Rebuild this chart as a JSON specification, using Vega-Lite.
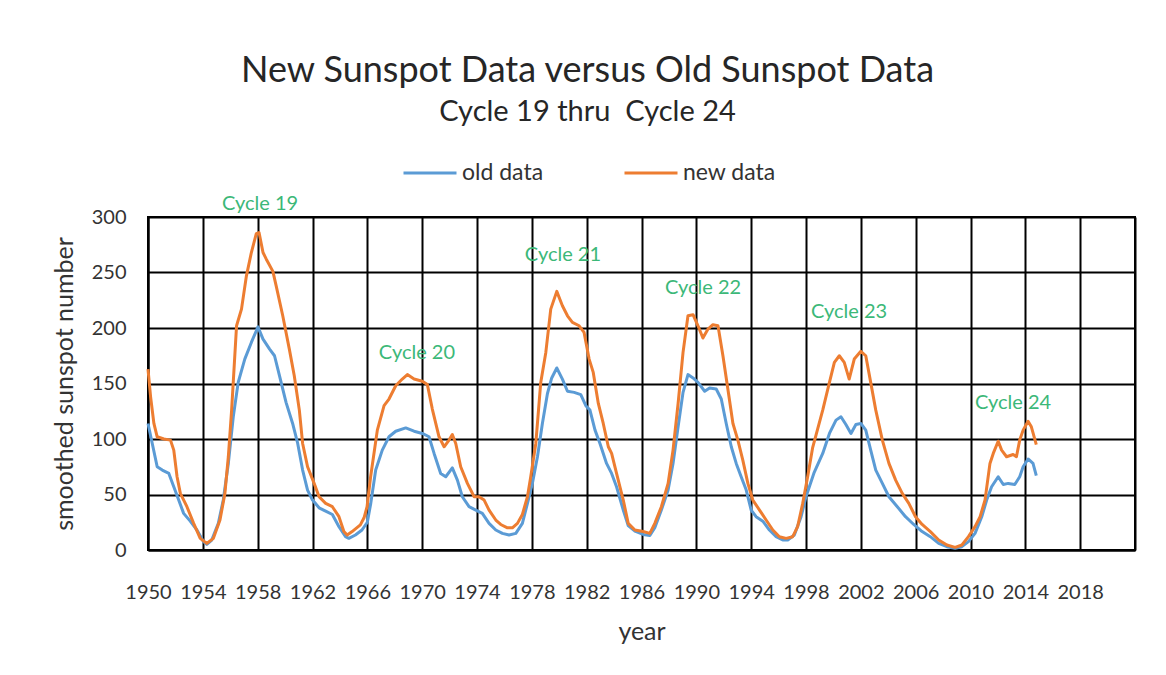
{
  "$schema": "https://vega.github.io/schema/vega-lite/v6.json",
  "width": 987,
  "height": 333,
  "autosize": {"type": "none"},
  "padding": {"left": 148, "top": 217, "right": 31, "bottom": 125},
  "background": "white",
  "title": {
    "text": "New Sunspot Data versus Old Sunspot Data",
    "subtitle": "Cycle 19 thru\u00a0 Cycle 24",
    "anchor": "middle",
    "frame": "group",
    "dx": -54,
    "offset": 17,
    "font": "Lato",
    "fontSize": 36,
    "fontWeight": "normal",
    "color": "#262626",
    "subtitleFont": "Lato",
    "subtitleFontSize": 29,
    "subtitleColor": "#262626",
    "subtitlePadding": 8
  },
  "config": {
    "view": {"stroke": "black", "strokeWidth": 2},
    "axis": {
      "grid": true,
      "gridColor": "black",
      "gridWidth": 2,
      "gridOpacity": 1,
      "domainColor": "black",
      "domainWidth": 2,
      "ticks": false,
      "labelFont": "Lato",
      "labelColor": "#333333",
      "labelFontSize": 20,
      "titleFont": "Lato",
      "titleFontWeight": "normal",
      "titleColor": "#333333",
      "titleFontSize": 25
    },
    "legend": {
      "labelFont": "Lato",
      "labelFontSize": 23,
      "labelColor": "#333333"
    }
  },
  "datasets": {
    "sunspots": [
      {"year": 1950.00, "series": "old data", "ssn": 114},
      {"year": 1950.31, "series": "old data", "ssn": 96},
      {"year": 1950.67, "series": "old data", "ssn": 75},
      {"year": 1951.04, "series": "old data", "ssn": 72},
      {"year": 1951.52, "series": "old data", "ssn": 69},
      {"year": 1951.88, "series": "old data", "ssn": 57},
      {"year": 1952.24, "series": "old data", "ssn": 45},
      {"year": 1952.60, "series": "old data", "ssn": 33},
      {"year": 1953.08, "series": "old data", "ssn": 26},
      {"year": 1953.57, "series": "old data", "ssn": 18},
      {"year": 1954.05, "series": "old data", "ssn": 7.5},
      {"year": 1954.29, "series": "old data", "ssn": 5},
      {"year": 1954.65, "series": "old data", "ssn": 9},
      {"year": 1955.13, "series": "old data", "ssn": 24},
      {"year": 1955.49, "series": "old data", "ssn": 45},
      {"year": 1955.86, "series": "old data", "ssn": 78},
      {"year": 1956.22, "series": "old data", "ssn": 120},
      {"year": 1956.58, "series": "old data", "ssn": 151},
      {"year": 1957.06, "series": "old data", "ssn": 172},
      {"year": 1957.54, "series": "old data", "ssn": 187},
      {"year": 1958.02, "series": "old data", "ssn": 201},
      {"year": 1958.39, "series": "old data", "ssn": 190},
      {"year": 1958.87, "series": "old data", "ssn": 181},
      {"year": 1959.23, "series": "old data", "ssn": 175},
      {"year": 1959.59, "series": "old data", "ssn": 157},
      {"year": 1960.07, "series": "old data", "ssn": 133},
      {"year": 1960.55, "series": "old data", "ssn": 114},
      {"year": 1960.92, "series": "old data", "ssn": 96},
      {"year": 1961.28, "series": "old data", "ssn": 72},
      {"year": 1961.64, "series": "old data", "ssn": 54},
      {"year": 1962.00, "series": "old data", "ssn": 45},
      {"year": 1962.48, "series": "old data", "ssn": 38},
      {"year": 1962.96, "series": "old data", "ssn": 35},
      {"year": 1963.45, "series": "old data", "ssn": 32},
      {"year": 1963.93, "series": "old data", "ssn": 21},
      {"year": 1964.41, "series": "old data", "ssn": 12},
      {"year": 1964.65, "series": "old data", "ssn": 10.5},
      {"year": 1965.13, "series": "old data", "ssn": 13.5},
      {"year": 1965.61, "series": "old data", "ssn": 18},
      {"year": 1966.00, "series": "old data", "ssn": 25},
      {"year": 1966.25, "series": "old data", "ssn": 42},
      {"year": 1966.61, "series": "old data", "ssn": 72},
      {"year": 1967.09, "series": "old data", "ssn": 90},
      {"year": 1967.58, "series": "old data", "ssn": 102},
      {"year": 1968.07, "series": "old data", "ssn": 107},
      {"year": 1968.80, "series": "old data", "ssn": 110},
      {"year": 1969.41, "series": "old data", "ssn": 107},
      {"year": 1970.01, "series": "old data", "ssn": 105},
      {"year": 1970.50, "series": "old data", "ssn": 102},
      {"year": 1970.87, "series": "old data", "ssn": 87},
      {"year": 1971.35, "series": "old data", "ssn": 69},
      {"year": 1971.72, "series": "old data", "ssn": 66},
      {"year": 1972.20, "series": "old data", "ssn": 74},
      {"year": 1972.57, "series": "old data", "ssn": 63},
      {"year": 1972.93, "series": "old data", "ssn": 48},
      {"year": 1973.42, "series": "old data", "ssn": 39},
      {"year": 1973.91, "series": "old data", "ssn": 36},
      {"year": 1974.39, "series": "old data", "ssn": 33},
      {"year": 1974.88, "series": "old data", "ssn": 24},
      {"year": 1975.37, "series": "old data", "ssn": 18},
      {"year": 1975.85, "series": "old data", "ssn": 15},
      {"year": 1976.34, "series": "old data", "ssn": 13.5},
      {"year": 1976.83, "series": "old data", "ssn": 15},
      {"year": 1977.31, "series": "old data", "ssn": 24},
      {"year": 1977.68, "series": "old data", "ssn": 42},
      {"year": 1978.04, "series": "old data", "ssn": 60},
      {"year": 1978.41, "series": "old data", "ssn": 84},
      {"year": 1978.77, "series": "old data", "ssn": 114},
      {"year": 1979.14, "series": "old data", "ssn": 141},
      {"year": 1979.45, "series": "old data", "ssn": 155},
      {"year": 1979.82, "series": "old data", "ssn": 164},
      {"year": 1980.23, "series": "old data", "ssn": 154},
      {"year": 1980.60, "series": "old data", "ssn": 143},
      {"year": 1981.09, "series": "old data", "ssn": 142},
      {"year": 1981.57, "series": "old data", "ssn": 140},
      {"year": 1981.94, "series": "old data", "ssn": 130},
      {"year": 1982.24, "series": "old data", "ssn": 126},
      {"year": 1982.61, "series": "old data", "ssn": 108},
      {"year": 1982.97, "series": "old data", "ssn": 96},
      {"year": 1983.45, "series": "old data", "ssn": 78},
      {"year": 1983.82, "series": "old data", "ssn": 69},
      {"year": 1984.18, "series": "old data", "ssn": 57},
      {"year": 1984.67, "series": "old data", "ssn": 36},
      {"year": 1985.03, "series": "old data", "ssn": 22},
      {"year": 1985.52, "series": "old data", "ssn": 17},
      {"year": 1986.12, "series": "old data", "ssn": 14},
      {"year": 1986.61, "series": "old data", "ssn": 13},
      {"year": 1986.97, "series": "old data", "ssn": 20},
      {"year": 1987.45, "series": "old data", "ssn": 36},
      {"year": 1987.94, "series": "old data", "ssn": 54},
      {"year": 1988.30, "series": "old data", "ssn": 78},
      {"year": 1988.67, "series": "old data", "ssn": 111},
      {"year": 1989.03, "series": "old data", "ssn": 142},
      {"year": 1989.39, "series": "old data", "ssn": 158},
      {"year": 1989.76, "series": "old data", "ssn": 155},
      {"year": 1990.12, "series": "old data", "ssn": 151},
      {"year": 1990.61, "series": "old data", "ssn": 143},
      {"year": 1990.97, "series": "old data", "ssn": 146},
      {"year": 1991.45, "series": "old data", "ssn": 145},
      {"year": 1991.82, "series": "old data", "ssn": 136},
      {"year": 1992.18, "series": "old data", "ssn": 114},
      {"year": 1992.55, "series": "old data", "ssn": 93},
      {"year": 1992.91, "series": "old data", "ssn": 78},
      {"year": 1993.27, "series": "old data", "ssn": 66},
      {"year": 1993.64, "series": "old data", "ssn": 54},
      {"year": 1994.00, "series": "old data", "ssn": 36},
      {"year": 1994.36, "series": "old data", "ssn": 30},
      {"year": 1994.85, "series": "old data", "ssn": 26},
      {"year": 1995.33, "series": "old data", "ssn": 18},
      {"year": 1995.82, "series": "old data", "ssn": 12},
      {"year": 1996.30, "series": "old data", "ssn": 9},
      {"year": 1996.67, "series": "old data", "ssn": 9},
      {"year": 1997.15, "series": "old data", "ssn": 13.5},
      {"year": 1997.64, "series": "old data", "ssn": 30},
      {"year": 1998.00, "series": "old data", "ssn": 48},
      {"year": 1998.60, "series": "old data", "ssn": 70},
      {"year": 1999.22, "series": "old data", "ssn": 87},
      {"year": 1999.71, "series": "old data", "ssn": 105},
      {"year": 2000.19, "series": "old data", "ssn": 117},
      {"year": 2000.55, "series": "old data", "ssn": 120},
      {"year": 2000.91, "series": "old data", "ssn": 113},
      {"year": 2001.28, "series": "old data", "ssn": 105},
      {"year": 2001.64, "series": "old data", "ssn": 113},
      {"year": 2002.00, "series": "old data", "ssn": 114},
      {"year": 2002.36, "series": "old data", "ssn": 108},
      {"year": 2002.72, "series": "old data", "ssn": 90},
      {"year": 2003.09, "series": "old data", "ssn": 72},
      {"year": 2003.57, "series": "old data", "ssn": 60},
      {"year": 2004.05, "series": "old data", "ssn": 48},
      {"year": 2004.66, "series": "old data", "ssn": 39},
      {"year": 2005.26, "series": "old data", "ssn": 30},
      {"year": 2005.86, "series": "old data", "ssn": 23},
      {"year": 2006.47, "series": "old data", "ssn": 16.6},
      {"year": 2007.07, "series": "old data", "ssn": 12},
      {"year": 2007.68, "series": "old data", "ssn": 6},
      {"year": 2008.28, "series": "old data", "ssn": 3},
      {"year": 2008.88, "series": "old data", "ssn": 1.5},
      {"year": 2009.37, "series": "old data", "ssn": 3},
      {"year": 2009.85, "series": "old data", "ssn": 7.5},
      {"year": 2010.33, "series": "old data", "ssn": 15},
      {"year": 2010.82, "series": "old data", "ssn": 30},
      {"year": 2011.18, "series": "old data", "ssn": 45},
      {"year": 2011.54, "series": "old data", "ssn": 57},
      {"year": 2012.02, "series": "old data", "ssn": 66},
      {"year": 2012.39, "series": "old data", "ssn": 59},
      {"year": 2012.75, "series": "old data", "ssn": 60},
      {"year": 2013.23, "series": "old data", "ssn": 59},
      {"year": 2013.59, "series": "old data", "ssn": 66},
      {"year": 2013.84, "series": "old data", "ssn": 75},
      {"year": 2014.20, "series": "old data", "ssn": 82},
      {"year": 2014.56, "series": "old data", "ssn": 78},
      {"year": 2014.80, "series": "old data", "ssn": 67},
      {"year": 1950.00, "series": "new data", "ssn": 163},
      {"year": 1950.19, "series": "new data", "ssn": 138},
      {"year": 1950.43, "series": "new data", "ssn": 114},
      {"year": 1950.67, "series": "new data", "ssn": 102},
      {"year": 1951.16, "series": "new data", "ssn": 100},
      {"year": 1951.64, "series": "new data", "ssn": 99},
      {"year": 1951.88, "series": "new data", "ssn": 90},
      {"year": 1952.12, "series": "new data", "ssn": 66},
      {"year": 1952.36, "series": "new data", "ssn": 51},
      {"year": 1952.84, "series": "new data", "ssn": 39},
      {"year": 1953.33, "series": "new data", "ssn": 24},
      {"year": 1953.81, "series": "new data", "ssn": 10.5},
      {"year": 1954.29, "series": "new data", "ssn": 6},
      {"year": 1954.77, "series": "new data", "ssn": 10.5},
      {"year": 1955.25, "series": "new data", "ssn": 27},
      {"year": 1955.61, "series": "new data", "ssn": 51},
      {"year": 1955.86, "series": "new data", "ssn": 84},
      {"year": 1956.10, "series": "new data", "ssn": 126},
      {"year": 1956.46, "series": "new data", "ssn": 202},
      {"year": 1956.82, "series": "new data", "ssn": 217},
      {"year": 1957.18, "series": "new data", "ssn": 247},
      {"year": 1957.54, "series": "new data", "ssn": 268},
      {"year": 1957.90, "series": "new data", "ssn": 285},
      {"year": 1958.10, "series": "new data", "ssn": 286},
      {"year": 1958.39, "series": "new data", "ssn": 268},
      {"year": 1958.63, "series": "new data", "ssn": 262},
      {"year": 1959.11, "series": "new data", "ssn": 251},
      {"year": 1959.35, "series": "new data", "ssn": 238},
      {"year": 1959.83, "series": "new data", "ssn": 211},
      {"year": 1960.31, "series": "new data", "ssn": 181},
      {"year": 1960.67, "series": "new data", "ssn": 157},
      {"year": 1961.04, "series": "new data", "ssn": 126},
      {"year": 1961.28, "series": "new data", "ssn": 96},
      {"year": 1961.64, "series": "new data", "ssn": 75},
      {"year": 1962.12, "series": "new data", "ssn": 60},
      {"year": 1962.48, "series": "new data", "ssn": 48},
      {"year": 1962.96, "series": "new data", "ssn": 42},
      {"year": 1963.45, "series": "new data", "ssn": 39},
      {"year": 1963.93, "series": "new data", "ssn": 30},
      {"year": 1964.29, "series": "new data", "ssn": 16.6},
      {"year": 1964.53, "series": "new data", "ssn": 13.5},
      {"year": 1964.89, "series": "new data", "ssn": 16.6},
      {"year": 1965.49, "series": "new data", "ssn": 22.6},
      {"year": 1965.76, "series": "new data", "ssn": 29},
      {"year": 1965.98, "series": "new data", "ssn": 39},
      {"year": 1966.24, "series": "new data", "ssn": 66},
      {"year": 1966.73, "series": "new data", "ssn": 108},
      {"year": 1967.22, "series": "new data", "ssn": 130},
      {"year": 1967.58, "series": "new data", "ssn": 136},
      {"year": 1968.07, "series": "new data", "ssn": 148},
      {"year": 1968.55, "series": "new data", "ssn": 154},
      {"year": 1968.92, "series": "new data", "ssn": 158},
      {"year": 1969.41, "series": "new data", "ssn": 154},
      {"year": 1970.01, "series": "new data", "ssn": 152},
      {"year": 1970.38, "series": "new data", "ssn": 149},
      {"year": 1970.74, "series": "new data", "ssn": 127},
      {"year": 1971.23, "series": "new data", "ssn": 102},
      {"year": 1971.60, "series": "new data", "ssn": 93},
      {"year": 1971.96, "series": "new data", "ssn": 99},
      {"year": 1972.20, "series": "new data", "ssn": 104},
      {"year": 1972.45, "series": "new data", "ssn": 96},
      {"year": 1972.81, "series": "new data", "ssn": 75},
      {"year": 1973.30, "series": "new data", "ssn": 60},
      {"year": 1973.79, "series": "new data", "ssn": 48},
      {"year": 1974.15, "series": "new data", "ssn": 48},
      {"year": 1974.52, "series": "new data", "ssn": 45},
      {"year": 1974.88, "series": "new data", "ssn": 36},
      {"year": 1975.37, "series": "new data", "ssn": 27},
      {"year": 1975.73, "series": "new data", "ssn": 23},
      {"year": 1976.22, "series": "new data", "ssn": 20},
      {"year": 1976.58, "series": "new data", "ssn": 20},
      {"year": 1976.95, "series": "new data", "ssn": 24},
      {"year": 1977.31, "series": "new data", "ssn": 32},
      {"year": 1977.68, "series": "new data", "ssn": 48},
      {"year": 1977.92, "series": "new data", "ssn": 66},
      {"year": 1978.29, "series": "new data", "ssn": 96},
      {"year": 1978.65, "series": "new data", "ssn": 151},
      {"year": 1979.02, "series": "new data", "ssn": 178},
      {"year": 1979.38, "series": "new data", "ssn": 217},
      {"year": 1979.82, "series": "new data", "ssn": 233},
      {"year": 1980.23, "series": "new data", "ssn": 220},
      {"year": 1980.60, "series": "new data", "ssn": 211},
      {"year": 1980.96, "series": "new data", "ssn": 205},
      {"year": 1981.45, "series": "new data", "ssn": 202},
      {"year": 1981.81, "series": "new data", "ssn": 196},
      {"year": 1982.18, "series": "new data", "ssn": 172},
      {"year": 1982.48, "series": "new data", "ssn": 160},
      {"year": 1982.85, "series": "new data", "ssn": 132},
      {"year": 1983.21, "series": "new data", "ssn": 114},
      {"year": 1983.58, "series": "new data", "ssn": 93},
      {"year": 1983.82, "series": "new data", "ssn": 87},
      {"year": 1984.18, "series": "new data", "ssn": 69},
      {"year": 1984.67, "series": "new data", "ssn": 45},
      {"year": 1985.03, "series": "new data", "ssn": 24},
      {"year": 1985.52, "series": "new data", "ssn": 18},
      {"year": 1986.12, "series": "new data", "ssn": 16.6},
      {"year": 1986.61, "series": "new data", "ssn": 15},
      {"year": 1986.97, "series": "new data", "ssn": 24},
      {"year": 1987.45, "series": "new data", "ssn": 39},
      {"year": 1987.94, "series": "new data", "ssn": 60},
      {"year": 1988.30, "series": "new data", "ssn": 90},
      {"year": 1988.67, "series": "new data", "ssn": 132},
      {"year": 1989.03, "series": "new data", "ssn": 178},
      {"year": 1989.39, "series": "new data", "ssn": 211},
      {"year": 1989.76, "series": "new data", "ssn": 212},
      {"year": 1990.12, "series": "new data", "ssn": 202},
      {"year": 1990.48, "series": "new data", "ssn": 191},
      {"year": 1990.85, "series": "new data", "ssn": 199},
      {"year": 1991.21, "series": "new data", "ssn": 203},
      {"year": 1991.58, "series": "new data", "ssn": 202},
      {"year": 1991.94, "series": "new data", "ssn": 175},
      {"year": 1992.30, "series": "new data", "ssn": 145},
      {"year": 1992.67, "series": "new data", "ssn": 114},
      {"year": 1993.03, "series": "new data", "ssn": 99},
      {"year": 1993.39, "series": "new data", "ssn": 81},
      {"year": 1993.76, "series": "new data", "ssn": 60},
      {"year": 1994.12, "series": "new data", "ssn": 45},
      {"year": 1994.61, "series": "new data", "ssn": 36},
      {"year": 1995.09, "series": "new data", "ssn": 27},
      {"year": 1995.58, "series": "new data", "ssn": 18},
      {"year": 1996.06, "series": "new data", "ssn": 12},
      {"year": 1996.55, "series": "new data", "ssn": 10.5},
      {"year": 1997.03, "series": "new data", "ssn": 12},
      {"year": 1997.39, "series": "new data", "ssn": 21},
      {"year": 1997.76, "series": "new data", "ssn": 42},
      {"year": 1998.12, "series": "new data", "ssn": 66},
      {"year": 1998.48, "series": "new data", "ssn": 92},
      {"year": 1998.74, "series": "new data", "ssn": 104},
      {"year": 1999.22, "series": "new data", "ssn": 126},
      {"year": 1999.71, "series": "new data", "ssn": 151},
      {"year": 2000.07, "series": "new data", "ssn": 169},
      {"year": 2000.43, "series": "new data", "ssn": 175},
      {"year": 2000.79, "series": "new data", "ssn": 169},
      {"year": 2001.15, "series": "new data", "ssn": 154},
      {"year": 2001.52, "series": "new data", "ssn": 172},
      {"year": 2002.00, "series": "new data", "ssn": 179},
      {"year": 2002.36, "series": "new data", "ssn": 175},
      {"year": 2002.72, "series": "new data", "ssn": 151},
      {"year": 2003.09, "series": "new data", "ssn": 126},
      {"year": 2003.57, "series": "new data", "ssn": 99},
      {"year": 2004.05, "series": "new data", "ssn": 78},
      {"year": 2004.54, "series": "new data", "ssn": 63},
      {"year": 2005.02, "series": "new data", "ssn": 51},
      {"year": 2005.50, "series": "new data", "ssn": 42},
      {"year": 2005.99, "series": "new data", "ssn": 30},
      {"year": 2006.47, "series": "new data", "ssn": 23},
      {"year": 2007.07, "series": "new data", "ssn": 16.6},
      {"year": 2007.68, "series": "new data", "ssn": 9},
      {"year": 2008.28, "series": "new data", "ssn": 4.5},
      {"year": 2008.88, "series": "new data", "ssn": 2.4},
      {"year": 2009.37, "series": "new data", "ssn": 4.5},
      {"year": 2009.85, "series": "new data", "ssn": 12},
      {"year": 2010.33, "series": "new data", "ssn": 21},
      {"year": 2010.70, "series": "new data", "ssn": 30},
      {"year": 2011.06, "series": "new data", "ssn": 45},
      {"year": 2011.42, "series": "new data", "ssn": 78},
      {"year": 2011.66, "series": "new data", "ssn": 87},
      {"year": 2012.02, "series": "new data", "ssn": 98},
      {"year": 2012.27, "series": "new data", "ssn": 90},
      {"year": 2012.63, "series": "new data", "ssn": 84},
      {"year": 2013.11, "series": "new data", "ssn": 86},
      {"year": 2013.35, "series": "new data", "ssn": 84},
      {"year": 2013.59, "series": "new data", "ssn": 99},
      {"year": 2013.84, "series": "new data", "ssn": 108},
      {"year": 2014.20, "series": "new data", "ssn": 116},
      {"year": 2014.44, "series": "new data", "ssn": 111},
      {"year": 2014.80, "series": "new data", "ssn": 95}
    ],
    "cycles": [
      {"year": 1958.17, "ssn": 311.7, "label": "Cycle 19"},
      {"year": 1969.62, "ssn": 177.5, "label": "Cycle 20"},
      {"year": 1980.27, "ssn": 265.8, "label": "Cycle 21"},
      {"year": 1990.49, "ssn": 236, "label": "Cycle 22"},
      {"year": 2001.14, "ssn": 214.4, "label": "Cycle 23"},
      {"year": 2013.1, "ssn": 132.4, "label": "Cycle 24"}
    ]
  },
  "layer": [
    {
      "data": {"name": "sunspots"},
      "transform": [{"filter": "datum.series === 'old data'"}],
      "mark": {"type": "line", "strokeWidth": 3, "strokeJoin": "round"},
      "encoding": {
        "x": {
          "field": "year",
          "type": "quantitative",
          "scale": {"domain": [1950, 2022], "nice": false, "zero": false},
          "axis": {
            "values": [1950, 1954, 1958, 1962, 1966, 1970, 1974, 1978, 1982, 1986, 1990, 1994, 1998, 2002, 2006, 2010, 2014, 2018, 2022],
            "format": "d",
            "labelExpr": "datum.value >= 2022 ? '' : datum.label",
            "labelPadding": 32,
            "labelFlush": false,
            "labelOverlap": false,
            "title": "year",
            "titlePadding": 17
          }
        },
        "y": {
          "field": "ssn",
          "type": "quantitative",
          "scale": {"domain": [0, 300], "nice": false},
          "axis": {
            "values": [0, 50, 100, 150, 200, 250, 300],
            "labelPadding": 22,
            "title": "smoothed sunspot number",
            "titlePadding": 14
          }
        },
        "color": {
          "field": "series",
          "type": "nominal",
          "scale": {"domain": ["old data", "new data"], "range": ["#5b9bd5", "#ed7d31"]},
          "legend": {
            "title": null,
            "orient": "none",
            "direction": "horizontal",
            "legendX": 254,
            "legendY": -72,
            "symbolType": "stroke",
            "symbolSize": 2809,
            "symbolStrokeWidth": 3,
            "labelOffset": 4,
            "columnPadding": 74,
            "padding": 0
          }
        }
      }
    },
    {
      "data": {"name": "sunspots"},
      "transform": [{"filter": "datum.series === 'new data'"}],
      "mark": {"type": "line", "strokeWidth": 3, "strokeJoin": "round"},
      "encoding": {
        "x": {"field": "year", "type": "quantitative"},
        "y": {"field": "ssn", "type": "quantitative"},
        "color": {"field": "series", "type": "nominal"}
      }
    },
    {
      "data": {"name": "cycles"},
      "mark": {"type": "text", "font": "Lato", "fontSize": 20, "color": "#3cb878", "align": "center", "baseline": "middle"},
      "encoding": {
        "x": {"field": "year", "type": "quantitative"},
        "y": {"field": "ssn", "type": "quantitative"},
        "text": {"field": "label"}
      }
    }
  ]
}
